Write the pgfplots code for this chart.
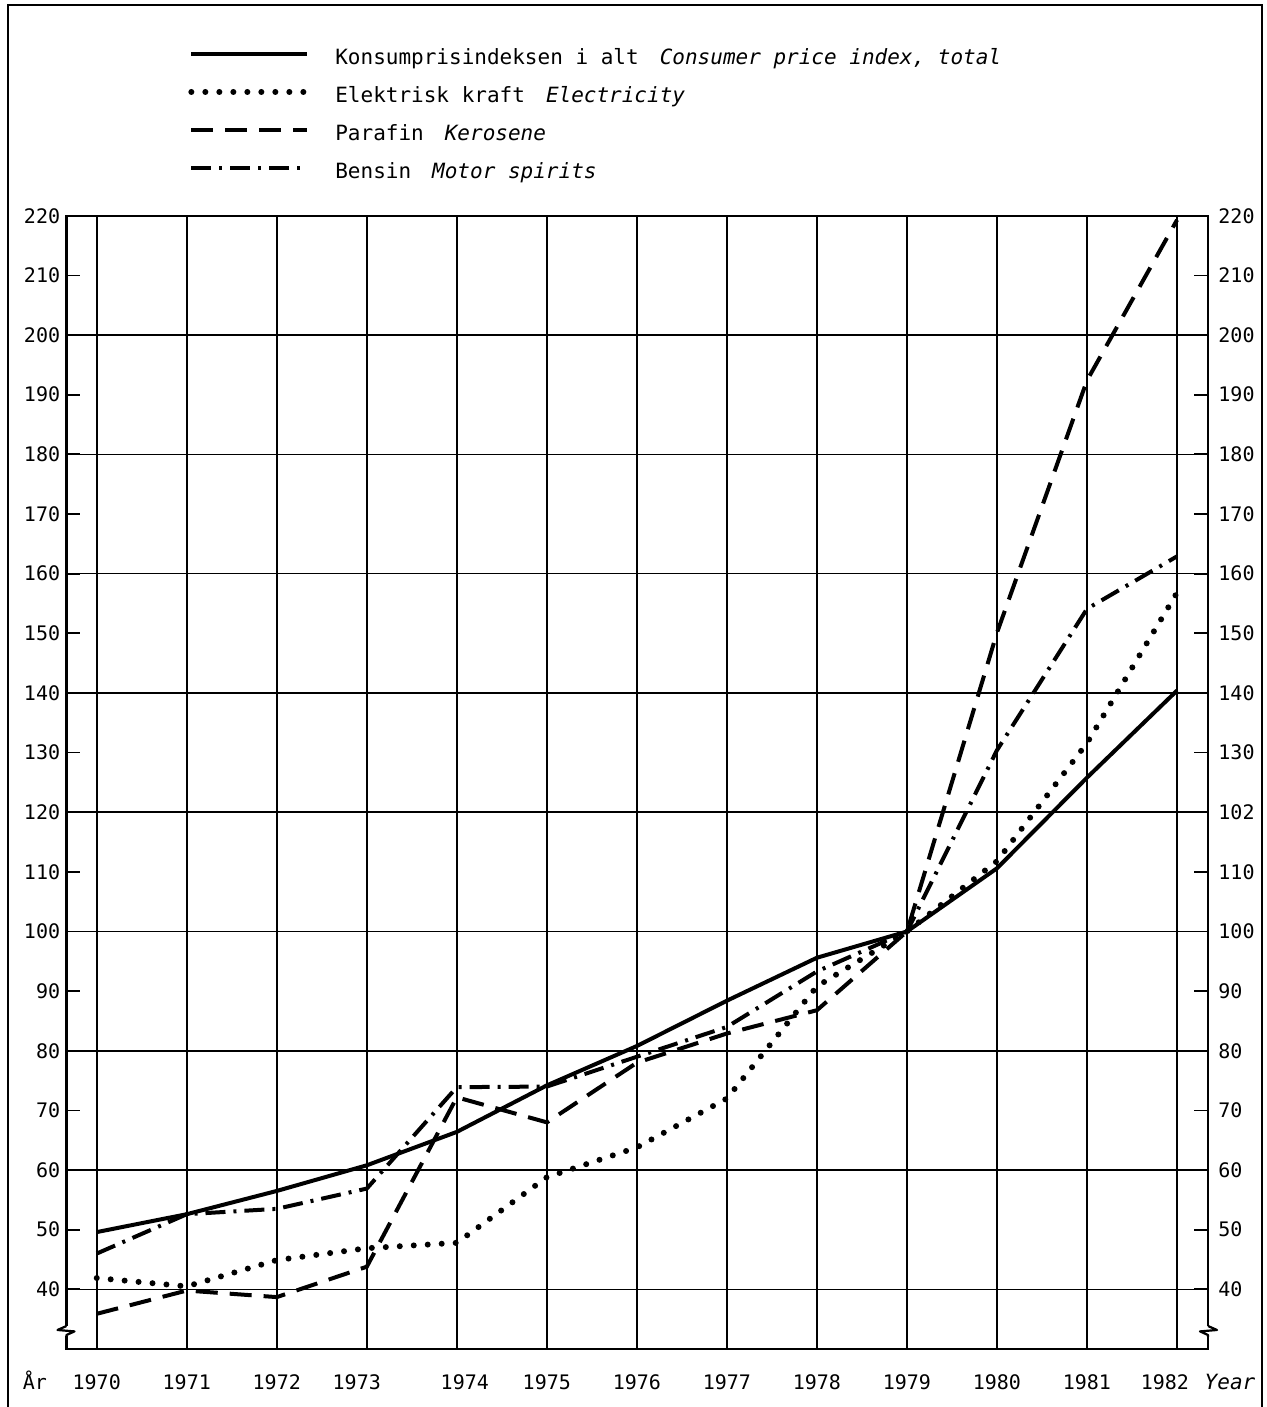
\documentclass[border=0pt]{standalone}
\usepackage{fontspec}
\setmainfont{DejaVu Sans Mono}
\usepackage{pgfplots}
\pgfplotsset{compat=1.18}

\pgfplotstableread{
year cpi   el    ker   mot
1970 49.6  41.9  35.9  46.0
1971 52.6  40.5  39.8  52.6
1972 56.5  44.9  38.7  53.5
1973 60.8  46.9  43.8  56.9
1974 66.4  47.8  72.2  73.9
1975 74.2  58.8  68.0  74.0
1976 80.8  63.8  78.0  79.0
1977 88.4  72.0  82.9  84.0
1978 95.6  90.8  86.8  93.3
1979 100.0 100.0 100.0 100.0
1980 110.6 111.8 150.1 130.4
1981 125.8 131.6 192.4 154.1
1982 140.4 156.8 219.3 162.9
}\prices

\begin{document}
\begin{tikzpicture}
\useasboundingbox (-33.25pt,-29pt) rectangle (599.75pt,674.5pt);
% outer frame
\draw[line width=1.4pt] (-29.25pt,-40pt) -- (-29.25pt,672pt) -- (597.75pt,672pt) -- (597.75pt,-40pt);

\begin{axis}[
  at={(0,0)}, anchor=south west, scale only axis,
  width=570.75pt, height=566.6pt,
  xmin=1969.664, xmax=1982.344, ymin=30, ymax=220,
  axis line style={line width=1.1pt},
  xtick={1970,...,1982},
  xticklabels={1970,1971,1972,1973\kern10pt,\kern8pt1974,1975,1976,1977,1978,1979,1980,1981,1982\kern12pt},
  xtick style={draw=none},
  xmajorgrids,
  xticklabel style={anchor=base, yshift=-20pt, font=\fontsize{10}{12}\selectfont},
  ytick={40,50,...,220},
  yticklabels={40,50,60,70,80,90,100,110,120,130,140,150,160,170,180,190,200,210,220},
  ytick pos=both, tick align=inside,
  major tick length=7pt,
  ytick style={line width=0.9pt, black},
  yticklabel style={inner sep=0pt, xshift=-3pt, font=\fontsize{10}{12}\selectfont},
  extra y ticks={40,60,...,220},
  extra y tick labels={},
  extra y tick style={grid=major, major tick length=0pt},
  grid style={line width=0.8pt, black},
  legend cell align=left,
  legend style={at={(axis description cs:0.1064,1.148)}, anchor=north west,
    draw=none, fill=none, inner sep=0pt, row sep=8.5pt, column sep=12.5pt,
    font=\fontsize{10.5}{12}\selectfont,
    nodes={inner sep=0pt, text height=8pt, text depth=2.5pt}},
  legend image code/.code={\draw[#1] (0pt,2.5pt) -- (58pt,2.5pt);},
]
\addplot[black, line width=2pt] table[x=year, y=cpi] {\prices};
\addlegendentry{Konsumprisindeksen i alt\kern1em\textit{Consumer price index, total}}
\addplot[black, line width=3pt, line cap=round, dash pattern=on 0pt off 7pt] table[x=year, y=el] {\prices};
\addlegendentry{Elektrisk kraft\kern1em\textit{Electricity}}
\addplot[black, line width=2pt, dash pattern=on 11pt off 6pt] table[x=year, y=ker] {\prices};
\addlegendentry{Parafin\kern1em\textit{Kerosene}}
\addplot[black, line width=2pt, dash pattern=on 10pt off 4pt on 1.5pt off 4pt] table[x=year, y=mot] {\prices};
\addlegendentry{Bensin\kern1em\textit{Motor spirits}}
\end{axis}

% right-hand tick labels (as printed, with 102 at the 120 line)
\begin{axis}[
  at={(0,0)}, anchor=south west, scale only axis,
  width=570.75pt, height=566.6pt,
  xmin=1969.664, xmax=1982.344, ymin=30, ymax=220,
  axis x line=none, axis y line*=right,
  y axis line style={draw=none},
  ytick={40,50,...,220},
  yticklabels={40,50,60,70,80,90,100,110,102,130,140,150,160,170,180,190,200,210,220},
  ytick style={draw=none},
  yticklabel style={inner sep=0pt, xshift=5pt, font=\fontsize{10}{12}\selectfont},
]
\end{axis}

% axis breaks
\fill[white] (-1.5pt,6.5pt) rectangle (1.5pt,11.5pt);
\draw[line width=1.1pt, line join=round] (0,11.5pt) -- (-4.5pt,9.5pt) -- (4pt,8.8pt) -- (0,7pt) -- (0,6pt);
\fill[white] (569.25pt,6.5pt) rectangle (572.25pt,11.5pt);
\draw[line width=1.1pt, line join=round] (570.75pt,11.5pt) -- (575.25pt,9.5pt) -- (566.75pt,8.8pt) -- (570.75pt,7pt) -- (570.75pt,6pt);

% axis titles
\node[anchor=base, font=\fontsize{10}{12}\selectfont] at (-15.75pt,-20pt) {År};
\node[anchor=base, font=\fontsize{10.5}{12}\selectfont\itshape] at (581.75pt,-20pt) {Year};
\end{tikzpicture}
\end{document}
